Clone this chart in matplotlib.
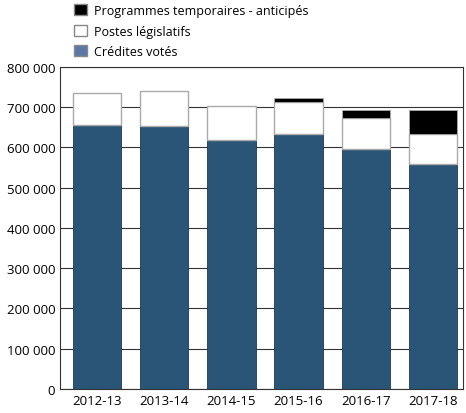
import matplotlib
matplotlib.use("Agg")
import matplotlib.pyplot as plt
from matplotlib.patches import Patch
from matplotlib.ticker import FuncFormatter

years = ["2012-13", "2013-14", "2014-15", "2015-16", "2016-17", "2017-18"]
credits = [656000, 654000, 618000, 634000, 597000, 559000]
legis = [78000, 85000, 85000, 78000, 77000, 74000]
temp = [0, 0, 0, 10000, 18000, 59000]

plt.rcParams['font.family'] = ['Open Sans', 'DejaVu Sans']
fig = plt.figure(figsize=(4.66, 4.14), dpi=100)
ax = fig.add_axes([0.129, 0.058, 0.865, 0.778])
x = range(len(years))
w = 0.72
ax.bar(x, credits, w, color="#2b5577", edgecolor="#1c3a55", linewidth=0.6, zorder=3)
ax.bar(x, legis, w, bottom=credits, color="white", edgecolor="#aaaaaa", linewidth=1, zorder=3)
bot2 = [c + l for c, l in zip(credits, legis)]
ax.bar(x, temp, w, bottom=bot2, color="black", edgecolor="#aaaaaa", linewidth=0.6, zorder=3)
ax.set_ylim(0, 800000)
ax.set_xlim(-0.55, 5.45)
ax.set_yticks(range(0, 800001, 100000))
ax.yaxis.set_major_formatter(FuncFormatter(lambda v, p: f"{int(v):,}".replace(",", " ")))
ax.set_xticks(list(x))
ax.set_xticklabels(years)
ax.tick_params(labelsize=9.5, length=0)
ax.yaxis.grid(True, color="#333333", linewidth=0.8, zorder=0)
for s in ax.spines.values():
    s.set_color("#333333")
handles = [Patch(facecolor="black", edgecolor="#888888"),
           Patch(facecolor="white", edgecolor="#888888"),
           Patch(facecolor="#5b77a8", edgecolor="#888888")]
labels = ["Programmes temporaires - anticipés", "Postes législatifs", "Crédites votés"]
fig.legend(handles, labels, loc="upper left", bbox_to_anchor=(0.135, 1.015), frameon=False,
           fontsize=9, handlelength=1.0, handleheight=1.0, handletextpad=0.6, labelspacing=0.6)
fig.savefig("out.png", dpi=100)
